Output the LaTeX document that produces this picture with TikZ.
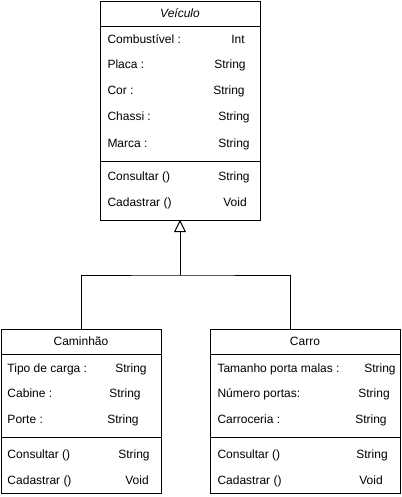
\documentclass[tikz,border=0pt]{standalone}
\usepackage{fontspec}
\setmainfont{Liberation Sans}
\usetikzlibrary{arrows.meta, positioning}

\begin{document}
\begin{tikzpicture}[
    x=0.75pt, y=-0.75pt,
    line width=0.75pt,
    part/.style={draw, minimum width=#1, inner sep=0pt, outer sep=0pt, font=\fontsize{9pt}{11pt}\selectfont},
    row/.style={anchor=west, inner sep=0pt, text height=6.5pt, text depth=1.8pt, font=\fontsize{9pt}{11pt}\selectfont},
    kind/.style={inner sep=0pt, text height=6.5pt, text depth=1.8pt, font=\fontsize{9pt}{11pt}\selectfont},
    extends/.style={-{Triangle[open, width=9pt, length=9pt]}}
  ]
    \useasboundingbox (0,0) rectangle (401,497);

    % superclass
    \node[part=120pt, minimum height=18.75pt, anchor=north west] (veiculo) at (100,1) {\textit{Veículo}};
    \node[part=120pt, minimum height=101.25pt, below=0pt of veiculo] (veiculoattr) {};
    \node[part=120pt, minimum height=44.25pt, below=0pt of veiculoattr] (veiculometh) {};
    \foreach \y/\txt/\tx/\typ [count=\i] in {40/Combustível :/238/Int, 65/Placa :/230/String, 91/Cor :/229/String, 117/Chassi :/234/String, 144/Marca :/234/String, 177/Consultar ()/234/String, 203/Cadastrar ()/235/Void} {
      \node[row] (vrow\i) at (107,\y) {\txt};
      \node[kind] (vtype\i) at (\tx,\y) {\typ};
    }

    % subclasses
    \node[part=120pt, minimum height=18.75pt, anchor=north west] (caminhao) at (1,329) {Caminhão};
    \node[part=120pt, minimum height=62.25pt, below=0pt of caminhao] (caminhaoattr) {};
    \node[part=120pt, minimum height=42pt, below=0pt of caminhaoattr] (caminhaometh) {};
    \foreach \y/\txt/\tx/\typ [count=\i] in {369/Tipo de carga :/131/String, 394/Cabine :/125/String, 420/Porte :/123/String, 455/Consultar ()/134/String, 481/Cadastrar ()/137/Void} {
      \node[row] (crow\i) at (7,\y) {\txt};
      \node[kind] (ctype\i) at (\tx,\y) {\typ};
    }

    \node[part=142.5pt, minimum height=18.75pt, anchor=north west] (carro) at (210,329) {Carro};
    \node[part=142.5pt, minimum height=62.25pt, below=0pt of carro] (carroattr) {};
    \node[part=142.5pt, minimum height=42pt, below=0pt of carroattr] (carrometh) {};
    \foreach \y/\txt/\tx/\typ [count=\i] in {369/Tamanho porta malas :/380/String, 394/Número portas:/374/String, 420/Carroceria :/371/String, 455/Consultar ()/372/String, 481/Cadastrar ()/371/Void} {
      \node[row] (rrow\i) at (217,\y) {\txt};
      \node[kind] (rtype\i) at (\tx,\y) {\typ};
    }

    % generalization
    \coordinate (join) at (180,275);
    \coordinate (carrotop) at (290,329);
    \draw (caminhao.north) |- (join) -| (carrotop);
    \draw[extends] (join) -- (veiculometh.south);
  \end{tikzpicture}
\end{document}
